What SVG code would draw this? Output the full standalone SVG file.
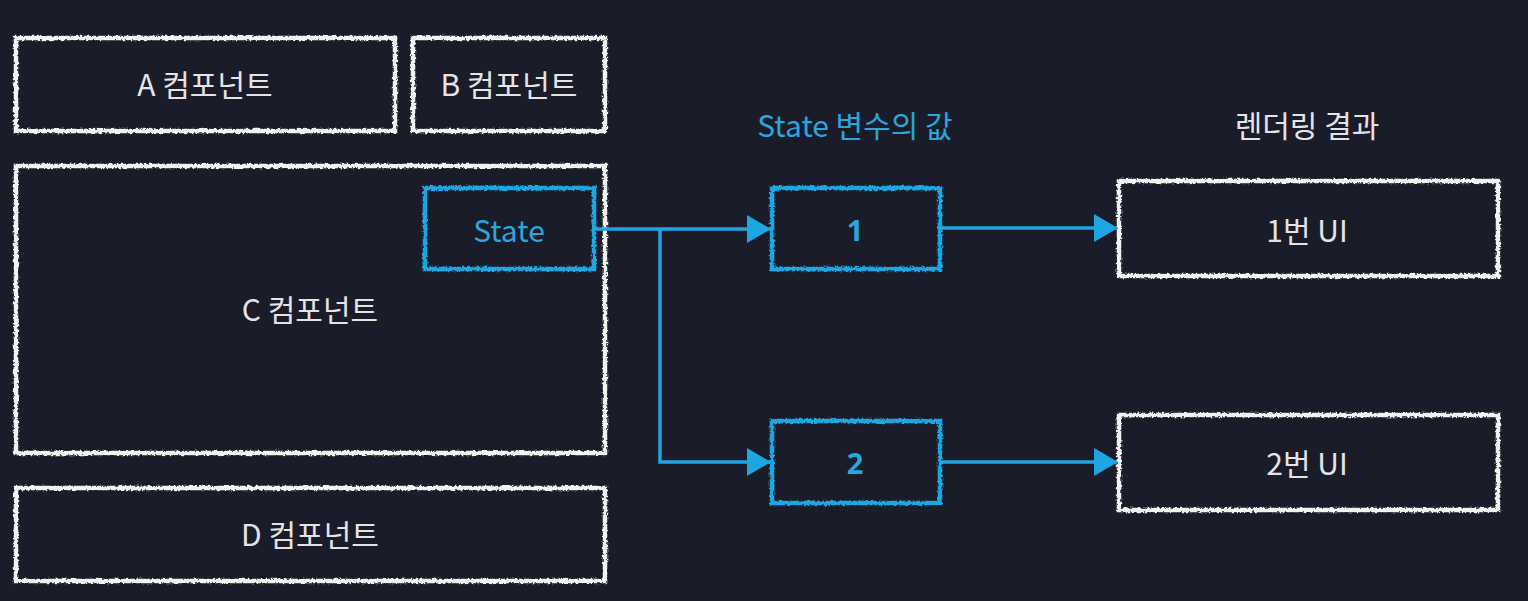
<svg xmlns="http://www.w3.org/2000/svg" width="1528" height="601" viewBox="0 0 1528 601">
<defs>
<filter id="rough" x="-5%" y="-5%" width="110%" height="110%">
<feTurbulence type="fractalNoise" baseFrequency="0.4" numOctaves="2" seed="3" result="n"/>
<feDisplacementMap in="SourceGraphic" in2="n" scale="4" xChannelSelector="R" yChannelSelector="G"/>
</filter>
<marker id="arrow" viewBox="0 0 24 28" refX="23" refY="14" markerWidth="24" markerHeight="28" markerUnits="userSpaceOnUse" orient="auto">
<path d="M0,0 L24,14 L0,28 Z" fill="#1ea6e2"/>
</marker>
<style>
.box{fill:none;stroke:#f2f2f2;stroke-width:4.5;filter:url(#rough)}
.bbox{fill:none;stroke:#1ea6e2;stroke-width:4.5;filter:url(#rough)}
.t{font-family:"Noto Sans CJK KR","Noto Sans",sans-serif;font-size:30px;fill:#e4e4e8;text-anchor:middle;dominant-baseline:central}
.tb{font-family:"Noto Sans CJK KR","Noto Sans",sans-serif;font-size:30px;fill:#2aa6dc;text-anchor:middle;dominant-baseline:central}
.num{font-family:"Noto Sans","Noto Sans CJK KR",sans-serif;font-size:29px;font-weight:bold;fill:#2aa6dc;text-anchor:middle;dominant-baseline:central}
.conn{fill:none;stroke:#1ea6e2;stroke-width:3.5}
</style>
</defs>
<rect width="1528" height="601" fill="#1b1c29"/>
<g id="nodeA"><rect class="box" x="16" y="38" width="379" height="93"/><text class="t" x="205" y="83">A 컴포넌트</text></g>
<g id="nodeB"><rect class="box" x="413" y="38" width="192" height="93"/><text class="t" x="509" y="83">B 컴포넌트</text></g>
<g id="nodeC"><rect class="box" x="16" y="166" width="589" height="287"/><text class="t" x="310" y="308">C 컴포넌트</text></g>
<g id="nodeState"><rect class="bbox" x="425" y="188" width="169" height="81"/><text class="tb" x="509" y="229">State</text></g>
<g id="nodeD"><rect class="box" x="16" y="488" width="589" height="93"/><text class="t" x="310" y="533">D 컴포넌트</text></g>
<g id="titleState"><text class="tb" x="855" y="124">State 변수의 값</text></g>
<g id="titleRender"><text class="t" x="1307" y="124">렌더링 결과</text></g>
<g id="node1"><rect class="bbox" x="772" y="188" width="168" height="81"/><text class="num" x="855" y="229">1</text></g>
<g id="node2"><rect class="bbox" x="772" y="421" width="168" height="82"/><text class="num" x="855" y="462">2</text></g>
<g id="nodeUI1"><rect class="box" x="1119" y="181" width="379" height="95"/><text class="t" x="1307" y="229">1번 UI</text></g>
<g id="nodeUI2"><rect class="box" x="1119" y="415" width="379" height="95"/><text class="t" x="1307" y="462">2번 UI</text></g>
<g id="connectors">
<path class="conn" d="M594,229 L770,229" marker-end="url(#arrow)"/>
<path class="conn" d="M660,229 L660,462 L770,462" marker-end="url(#arrow)"/>
<path class="conn" d="M940,228 L1117,228" marker-end="url(#arrow)"/>
<path class="conn" d="M940,462 L1117,462" marker-end="url(#arrow)"/>
</g>
</svg>
